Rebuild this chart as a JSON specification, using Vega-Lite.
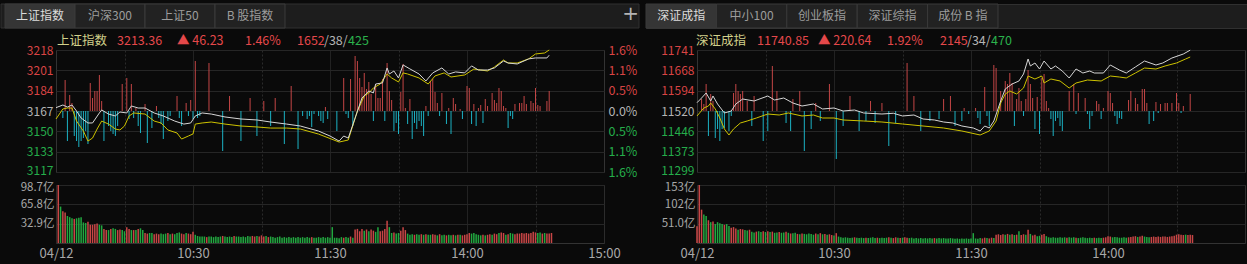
{
"$schema":"https://vega.github.io/schema/vega-lite/v6.json",
"background":"#0a0a0a",
"padding":{"left":0,"right":0,"top":3,"bottom":0},
"config":{"view":{"stroke":"#333333"},"font":"Noto Sans CJK SC","axis":{"domain":false,"ticks":false,"labelFont":"Noto Sans CJK SC","labelFontSize":12,"labelColor":"#a8a8a8","gridColor":"#262626"},"title":{"font":"Noto Sans CJK SC"}},
"datasets":{
"tabsL":[{"tab":"上证指数","on":1},{"tab":"沪深300","on":0},{"tab":"上证50","on":0},{"tab":"B 股指数","on":0}],
"tabsR":[{"tab":"深证成指","on":1},{"tab":"中小100","on":0},{"tab":"创业板指","on":0},{"tab":"深证综指","on":0},{"tab":"成份 B 指","on":0}],
"hdL":[{"k":"a","s":"上证指数","p":0},{"k":"b","s":"3213.36","p":0},{"k":"c","s":"▲ 46.23","p":0},{"k":"d","s":"1.46%","p":1},{"k":"e","s":"1652","p":0},{"k":"e","s":"/38/","p":2},{"k":"e","s":"425","p":3}],
"hdR":[{"k":"a","s":"深证成指","p":0},{"k":"b","s":"11740.85","p":0},{"k":"c","s":"▲ 220.64","p":0},{"k":"d","s":"1.92%","p":1},{"k":"e","s":"2145","p":0},{"k":"e","s":"/34/","p":2},{"k":"e","s":"470","p":3}],
"wL":[{"t":0,"p":3169.9},{"t":3,"p":3172.1},{"t":5,"p":3170.4},{"t":7,"p":3172.1},{"t":9,"p":3167.1},{"t":11,"p":3161.3},{"t":14,"p":3157.2},{"t":16,"p":3157.2},{"t":19,"p":3165.5},{"t":20,"p":3168.0},{"t":23,"p":3164.6},{"t":26,"p":3163.0},{"t":28,"p":3166.3},{"t":31,"p":3165.5},{"t":33,"p":3171.3},{"t":36,"p":3169.6},{"t":39,"p":3169.6},{"t":43,"p":3165.5},{"t":47,"p":3163.0},{"t":52,"p":3158.8},{"t":56,"p":3156.3},{"t":59,"p":3157.2},{"t":61,"p":3163.0},{"t":64,"p":3165.5},{"t":68,"p":3164.6},{"t":74,"p":3162.2},{"t":81,"p":3160.5},{"t":88,"p":3159.7},{"t":94,"p":3158.0},{"t":101,"p":3156.3},{"t":107,"p":3154.7},{"t":115,"p":3150.5},{"t":120,"p":3146.4},{"t":124,"p":3142.2},{"t":126,"p":3146.4},{"t":128,"p":3144.7},{"t":131,"p":3161.3},{"t":134,"p":3177.9},{"t":137,"p":3183.7},{"t":139,"p":3182.1},{"t":140,"p":3189.5},{"t":143,"p":3190.4},{"t":145,"p":3202.8},{"t":146,"p":3197.8},{"t":148,"p":3200.3},{"t":150,"p":3194.5},{"t":152,"p":3205.3},{"t":155,"p":3202.0},{"t":159,"p":3197.8},{"t":162,"p":3192.0},{"t":165,"p":3198.7},{"t":169,"p":3202.8},{"t":172,"p":3197.8},{"t":175,"p":3199.5},{"t":179,"p":3198.7},{"t":182,"p":3204.5},{"t":185,"p":3201.1},{"t":189,"p":3201.1},{"t":192,"p":3202.8},{"t":196,"p":3208.6},{"t":198,"p":3206.9},{"t":202,"p":3206.1},{"t":207,"p":3210.3},{"t":210,"p":3211.1},{"t":215,"p":3211.1},{"t":216,"p":3213.36}],
"yL":[{"t":0,"p":3160.5},{"t":3,"p":3168.8},{"t":5,"p":3169.6},{"t":7,"p":3169.6},{"t":9,"p":3158.8},{"t":12,"p":3150.5},{"t":14,"p":3142.2},{"t":16,"p":3144.7},{"t":18,"p":3152.2},{"t":20,"p":3158.8},{"t":23,"p":3156.3},{"t":26,"p":3152.2},{"t":28,"p":3151.4},{"t":30,"p":3154.7},{"t":32,"p":3163.0},{"t":34,"p":3165.5},{"t":39,"p":3164.6},{"t":43,"p":3158.8},{"t":46,"p":3157.2},{"t":49,"p":3151.4},{"t":53,"p":3148.9},{"t":55,"p":3143.9},{"t":58,"p":3146.4},{"t":60,"p":3148.1},{"t":61,"p":3156.3},{"t":64,"p":3157.2},{"t":68,"p":3158.0},{"t":74,"p":3156.3},{"t":81,"p":3154.7},{"t":88,"p":3153.9},{"t":94,"p":3153.0},{"t":101,"p":3153.0},{"t":107,"p":3152.2},{"t":115,"p":3148.0},{"t":124,"p":3141.4},{"t":128,"p":3143.1},{"t":132,"p":3167.1},{"t":135,"p":3179.6},{"t":137,"p":3182.1},{"t":139,"p":3186.2},{"t":142,"p":3189.5},{"t":145,"p":3197.8},{"t":147,"p":3194.5},{"t":150,"p":3191.2},{"t":152,"p":3198.7},{"t":154,"p":3197.8},{"t":159,"p":3194.5},{"t":163,"p":3189.5},{"t":166,"p":3196.2},{"t":170,"p":3198.7},{"t":173,"p":3195.3},{"t":179,"p":3197.0},{"t":183,"p":3201.9},{"t":186,"p":3201.1},{"t":189,"p":3200.3},{"t":192,"p":3203.6},{"t":196,"p":3209.4},{"t":198,"p":3206.9},{"t":202,"p":3206.9},{"t":207,"p":3210.3},{"t":210,"p":3214.4},{"t":214,"p":3215.2},{"t":216,"p":3217.7}],
"bL":[{"t":4,"h":31},{"t":6,"h":16},{"t":7,"h":8},{"t":15,"h":28},{"t":16,"h":13},{"t":17,"h":20},{"t":18,"h":20},{"t":19,"h":36},{"t":20,"h":10},{"t":29,"h":27},{"t":31,"h":33},{"t":33,"h":27},{"t":35,"h":3},{"t":39,"h":7},{"t":44,"h":5},{"t":53,"h":15},{"t":57,"h":8},{"t":59,"h":11},{"t":61,"h":50},{"t":67,"h":48},{"t":76,"h":15},{"t":85,"h":13},{"t":91,"h":10},{"t":96,"h":13},{"t":103,"h":25},{"t":118,"h":4},{"t":126,"h":33},{"t":129,"h":32},{"t":131,"h":55},{"t":132,"h":50},{"t":133,"h":33},{"t":134,"h":24},{"t":135,"h":38},{"t":136,"h":22},{"t":137,"h":29},{"t":138,"h":17},{"t":140,"h":27},{"t":141,"h":13},{"t":142,"h":13},{"t":143,"h":32},{"t":145,"h":48},{"t":146,"h":20},{"t":147,"h":11},{"t":151,"h":19},{"t":152,"h":47},{"t":153,"h":3},{"t":155,"h":12},{"t":162,"h":5},{"t":164,"h":30},{"t":165,"h":32},{"t":166,"h":19},{"t":167,"h":8},{"t":169,"h":18},{"t":172,"h":3},{"t":174,"h":13},{"t":175,"h":7},{"t":177,"h":2},{"t":180,"h":25},{"t":181,"h":23},{"t":183,"h":7},{"t":185,"h":3},{"t":186,"h":6},{"t":188,"h":12},{"t":189,"h":5},{"t":191,"h":18},{"t":192,"h":11},{"t":193,"h":8},{"t":194,"h":23},{"t":195,"h":20},{"t":196,"h":5},{"t":197,"h":3},{"t":201,"h":7},{"t":203,"h":8},{"t":204,"h":8},{"t":205,"h":15},{"t":206,"h":7},{"t":208,"h":10},{"t":209,"h":8},{"t":210,"h":23},{"t":211,"h":6},{"t":212,"h":5},{"t":215,"h":10},{"t":216,"h":20},
{"t":3,"h":-7},{"t":5,"h":-30},{"t":8,"h":-25},{"t":9,"h":-30},{"t":10,"h":-36},{"t":11,"h":-30},{"t":12,"h":-27},{"t":13,"h":-20},{"t":14,"h":-33},{"t":21,"h":-30},{"t":23,"h":-15},{"t":24,"h":-20},{"t":25,"h":-23},{"t":26,"h":-25},{"t":27,"h":-15},{"t":32,"h":-8},{"t":34,"h":-7},{"t":36,"h":-15},{"t":37,"h":-22},{"t":40,"h":-32},{"t":42,"h":-17},{"t":45,"h":-7},{"t":46,"h":-13},{"t":47,"h":-28},{"t":49,"h":-10},{"t":50,"h":-5},{"t":54,"h":-7},{"t":55,"h":-15},{"t":58,"h":-5},{"t":60,"h":-8},{"t":62,"h":-7},{"t":63,"h":-5},{"t":73,"h":-40},{"t":81,"h":-30},{"t":88,"h":-25},{"t":94,"h":-15},{"t":100,"h":-33},{"t":106,"h":-38},{"t":108,"h":-5},{"t":110,"h":-8},{"t":111,"h":-5},{"t":112,"h":-16},{"t":113,"h":-3},{"t":115,"h":-5},{"t":116,"h":-10},{"t":117,"h":-12},{"t":119,"h":-8},{"t":123,"h":-20},{"t":127,"h":-3},{"t":128,"h":-7},{"t":130,"h":-15},{"t":139,"h":-10},{"t":144,"h":-10},{"t":148,"h":-20},{"t":149,"h":-12},{"t":150,"h":-23},{"t":154,"h":-13},{"t":156,"h":-28},{"t":157,"h":-12},{"t":158,"h":-18},{"t":159,"h":-10},{"t":160,"h":-15},{"t":161,"h":-25},{"t":163,"h":-5},{"t":168,"h":-5},{"t":171,"h":-13},{"t":173,"h":-23},{"t":178,"h":-8},{"t":182,"h":-13},{"t":184,"h":-15},{"t":187,"h":-12},{"t":198,"h":-17},{"t":199,"h":-5},{"t":200,"h":-8}],
"vL":[{"t":1,"v":98.7,"c":1},{"t":2,"v":62,"c":0},{"t":3,"v":54,"c":1},{"t":4,"v":52,"c":1},{"t":5,"v":46,"c":0},{"t":6,"v":44,"c":0},{"t":7,"v":42,"c":0},{"t":8,"v":41,"c":1},{"t":9,"v":42,"c":0},{"t":10,"v":43,"c":0},{"t":11,"v":44,"c":0},{"t":12,"v":35,"c":0},{"t":13,"v":34,"c":0},{"t":14,"v":36,"c":1},{"t":15,"v":31,"c":1},{"t":16,"v":31,"c":1},{"t":17,"v":32,"c":1},{"t":18,"v":33,"c":1},{"t":19,"v":31,"c":0},{"t":20,"v":30,"c":0},{"t":21,"v":24,"c":1},{"t":22,"v":22,"c":1},{"t":23,"v":22,"c":0},{"t":24,"v":24,"c":1},{"t":25,"v":25,"c":0},{"t":26,"v":24,"c":0},{"t":27,"v":22,"c":1},{"t":28,"v":23,"c":1},{"t":29,"v":22,"c":0},{"t":30,"v":20,"c":0},{"t":31,"v":27,"c":1},{"t":32,"v":24,"c":1},{"t":33,"v":22,"c":0},{"t":34,"v":22,"c":1},{"t":35,"v":22,"c":0},{"t":36,"v":24,"c":1},{"t":37,"v":25,"c":0},{"t":38,"v":22,"c":0},{"t":39,"v":17,"c":1},{"t":40,"v":16,"c":1},{"t":41,"v":17,"c":0},{"t":42,"v":17,"c":0},{"t":43,"v":15,"c":1},{"t":44,"v":16,"c":1},{"t":45,"v":15,"c":1},{"t":46,"v":16,"c":0},{"t":47,"v":15,"c":0},{"t":48,"v":16,"c":0},{"t":49,"v":17,"c":1},{"t":50,"v":15,"c":0},{"t":51,"v":16,"c":1},{"t":52,"v":15,"c":0},{"t":53,"v":17,"c":0},{"t":54,"v":18,"c":0},{"t":55,"v":16,"c":1},{"t":56,"v":15,"c":1},{"t":57,"v":17,"c":0},{"t":58,"v":16,"c":1},{"t":59,"v":15,"c":1},{"t":60,"v":19,"c":1},{"t":61,"v":14,"c":0},{"t":62,"v":12,"c":0},{"t":63,"v":11,"c":0},{"t":64,"v":11,"c":0},{"t":65,"v":11,"c":0},{"t":66,"v":10,"c":1},{"t":67,"v":11,"c":0},{"t":68,"v":11,"c":0},{"t":69,"v":10,"c":0},{"t":70,"v":11,"c":0},{"t":71,"v":10,"c":0},{"t":72,"v":11,"c":0},{"t":73,"v":12,"c":1},{"t":74,"v":11,"c":0},{"t":75,"v":10,"c":0},{"t":76,"v":11,"c":0},{"t":77,"v":10,"c":0},{"t":78,"v":12,"c":1},{"t":79,"v":11,"c":0},{"t":80,"v":11,"c":0},{"t":81,"v":10,"c":0},{"t":82,"v":11,"c":0},{"t":83,"v":10,"c":0},{"t":84,"v":12,"c":0},{"t":85,"v":11,"c":0},{"t":86,"v":12,"c":1},{"t":87,"v":11,"c":1},{"t":88,"v":12,"c":0},{"t":89,"v":11,"c":1},{"t":90,"v":13,"c":1},{"t":91,"v":11,"c":1},{"t":92,"v":12,"c":0},{"t":93,"v":10,"c":1},{"t":94,"v":11,"c":0},{"t":95,"v":10,"c":0},{"t":96,"v":9,"c":0},{"t":97,"v":10,"c":0},{"t":98,"v":11,"c":0},{"t":99,"v":9,"c":0},{"t":100,"v":10,"c":0},{"t":101,"v":9,"c":0},{"t":102,"v":10,"c":0},{"t":103,"v":9,"c":0},{"t":104,"v":10,"c":0},{"t":105,"v":9,"c":0},{"t":106,"v":10,"c":0},{"t":107,"v":9,"c":0},{"t":108,"v":10,"c":0},{"t":109,"v":9,"c":0},{"t":110,"v":10,"c":0},{"t":111,"v":9,"c":0},{"t":112,"v":10,"c":1},{"t":113,"v":9,"c":0},{"t":114,"v":9,"c":0},{"t":115,"v":10,"c":0},{"t":116,"v":9,"c":0},{"t":117,"v":10,"c":0},{"t":118,"v":9,"c":0},{"t":119,"v":10,"c":0},{"t":120,"v":9,"c":0},{"t":121,"v":27,"c":0},{"t":122,"v":9,"c":0},{"t":123,"v":9,"c":0},{"t":124,"v":8,"c":0},{"t":125,"v":10,"c":0},{"t":126,"v":9,"c":1},{"t":127,"v":10,"c":0},{"t":128,"v":9,"c":0},{"t":129,"v":11,"c":1},{"t":130,"v":9,"c":0},{"t":131,"v":23,"c":1},{"t":132,"v":24,"c":1},{"t":133,"v":20,"c":1},{"t":134,"v":24,"c":1},{"t":135,"v":21,"c":0},{"t":136,"v":23,"c":1},{"t":137,"v":20,"c":0},{"t":138,"v":23,"c":1},{"t":139,"v":21,"c":1},{"t":140,"v":19,"c":0},{"t":141,"v":27,"c":0},{"t":142,"v":20,"c":1},{"t":143,"v":21,"c":1},{"t":144,"v":24,"c":1},{"t":145,"v":38,"c":1},{"t":146,"v":27,"c":0},{"t":147,"v":17,"c":0},{"t":148,"v":18,"c":1},{"t":149,"v":16,"c":0},{"t":150,"v":17,"c":0},{"t":151,"v":21,"c":1},{"t":152,"v":27,"c":1},{"t":153,"v":22,"c":1},{"t":154,"v":16,"c":0},{"t":155,"v":14,"c":0},{"t":156,"v":15,"c":0},{"t":157,"v":14,"c":1},{"t":158,"v":15,"c":0},{"t":159,"v":14,"c":0},{"t":160,"v":15,"c":1},{"t":161,"v":14,"c":0},{"t":162,"v":15,"c":1},{"t":163,"v":14,"c":0},{"t":164,"v":14,"c":0},{"t":165,"v":15,"c":1},{"t":166,"v":14,"c":1},{"t":167,"v":13,"c":0},{"t":168,"v":15,"c":1},{"t":169,"v":13,"c":0},{"t":170,"v":14,"c":0},{"t":171,"v":13,"c":1},{"t":172,"v":14,"c":0},{"t":173,"v":13,"c":0},{"t":174,"v":14,"c":1},{"t":175,"v":13,"c":0},{"t":176,"v":14,"c":1},{"t":177,"v":14,"c":0},{"t":178,"v":13,"c":1},{"t":179,"v":14,"c":1},{"t":180,"v":15,"c":1},{"t":181,"v":17,"c":1},{"t":182,"v":16,"c":0},{"t":183,"v":17,"c":0},{"t":184,"v":15,"c":0},{"t":185,"v":14,"c":0},{"t":186,"v":13,"c":0},{"t":187,"v":14,"c":1},{"t":188,"v":13,"c":0},{"t":189,"v":14,"c":1},{"t":190,"v":15,"c":1},{"t":191,"v":14,"c":0},{"t":192,"v":16,"c":1},{"t":193,"v":15,"c":1},{"t":194,"v":17,"c":0},{"t":195,"v":18,"c":1},{"t":196,"v":17,"c":1},{"t":197,"v":14,"c":0},{"t":198,"v":15,"c":1},{"t":199,"v":17,"c":0},{"t":200,"v":16,"c":0},{"t":201,"v":15,"c":1},{"t":202,"v":16,"c":1},{"t":203,"v":16,"c":1},{"t":204,"v":17,"c":1},{"t":205,"v":16,"c":1},{"t":206,"v":17,"c":1},{"t":207,"v":16,"c":1},{"t":208,"v":17,"c":1},{"t":209,"v":19,"c":1},{"t":210,"v":18,"c":1},{"t":211,"v":17,"c":0},{"t":212,"v":18,"c":0},{"t":213,"v":16,"c":1},{"t":214,"v":17,"c":0},{"t":215,"v":16,"c":1},{"t":216,"v":16,"c":1},{"t":217,"v":17,"c":1}],
"wR":[{"t":0,"p":11550.3},{"t":2,"p":11567.3},{"t":4,"p":11585.5},{"t":6,"p":11556.5},{"t":7,"p":11574.6},{"t":9,"p":11545.6},{"t":12,"p":11513.0},{"t":15,"p":11520.2},{"t":17,"p":11545.6},{"t":20,"p":11563.7},{"t":25,"p":11556.5},{"t":31,"p":11574.6},{"t":34,"p":11560.1},{"t":38,"p":11567.3},{"t":42,"p":11549.2},{"t":46,"p":11538.3},{"t":51,"p":11545.6},{"t":55,"p":11527.5},{"t":60,"p":11531.1},{"t":64,"p":11520.2},{"t":69,"p":11523.8},{"t":73,"p":11513.0},{"t":81,"p":11509.3},{"t":86,"p":11512.0},{"t":90,"p":11502.1},{"t":95,"p":11505.7},{"t":99,"p":11491.2},{"t":104,"p":11487.6},{"t":108,"p":11480.3},{"t":112,"p":11476.7},{"t":116,"p":11465.8},{"t":121,"p":11458.6},{"t":124,"p":11447.7},{"t":126,"p":11465.8},{"t":128,"p":11458.6},{"t":130,"p":11484.0},{"t":133,"p":11556.5},{"t":135,"p":11600.0},{"t":138,"p":11618.1},{"t":141,"p":11629.0},{"t":143,"p":11654.4},{"t":145,"p":11708.8},{"t":146,"p":11683.4},{"t":148,"p":11694.3},{"t":150,"p":11672.5},{"t":152,"p":11701.5},{"t":155,"p":11672.5},{"t":157,"p":11683.4},{"t":160,"p":11665.2},{"t":163,"p":11639.9},{"t":166,"p":11672.5},{"t":169,"p":11658.0},{"t":172,"p":11665.2},{"t":174,"p":11658.0},{"t":178,"p":11658.0},{"t":181,"p":11687.0},{"t":185,"p":11668.9},{"t":188,"p":11658.0},{"t":192,"p":11679.8},{"t":196,"p":11701.5},{"t":201,"p":11687.0},{"t":204,"p":11694.3},{"t":208,"p":11712.4},{"t":213,"p":11726.9},{"t":216,"p":11740.85}],
"yR":[{"t":0,"p":11502.1},{"t":3,"p":11531.1},{"t":5,"p":11538.3},{"t":6,"p":11549.2},{"t":8,"p":11527.5},{"t":10,"p":11494.8},{"t":12,"p":11455.0},{"t":14,"p":11433.2},{"t":16,"p":11455.0},{"t":19,"p":11476.7},{"t":22,"p":11484.0},{"t":26,"p":11494.8},{"t":31,"p":11509.3},{"t":36,"p":11505.7},{"t":40,"p":11513.0},{"t":46,"p":11502.1},{"t":51,"p":11505.7},{"t":55,"p":11494.8},{"t":60,"p":11494.8},{"t":64,"p":11487.6},{"t":73,"p":11484.0},{"t":81,"p":11480.3},{"t":90,"p":11473.1},{"t":99,"p":11465.8},{"t":108,"p":11458.6},{"t":116,"p":11447.7},{"t":124,"p":11433.2},{"t":128,"p":11447.7},{"t":131,"p":11484.0},{"t":133,"p":11549.2},{"t":135,"p":11581.9},{"t":137,"p":11592.7},{"t":140,"p":11581.9},{"t":143,"p":11603.6},{"t":145,"p":11647.1},{"t":148,"p":11636.2},{"t":151,"p":11647.1},{"t":152,"p":11621.7},{"t":155,"p":11636.2},{"t":159,"p":11629.0},{"t":163,"p":11603.6},{"t":166,"p":11621.7},{"t":171,"p":11632.6},{"t":177,"p":11629.0},{"t":181,"p":11647.1},{"t":185,"p":11643.5},{"t":188,"p":11639.9},{"t":192,"p":11658.0},{"t":196,"p":11676.1},{"t":201,"p":11672.5},{"t":205,"p":11683.4},{"t":210,"p":11694.3},{"t":214,"p":11708.8},{"t":216,"p":11716.0}],
"bR":[{"t":2,"h":12},{"t":3,"h":7},{"t":4,"h":27},{"t":6,"h":17},{"t":7,"h":10},{"t":16,"h":18},{"t":17,"h":27},{"t":18,"h":20},{"t":19,"h":17},{"t":20,"h":20},{"t":22,"h":10},{"t":25,"h":15},{"t":33,"h":45},{"t":35,"h":20},{"t":42,"h":12},{"t":45,"h":20},{"t":52,"h":8},{"t":58,"h":27},{"t":67,"h":15},{"t":76,"h":10},{"t":81,"h":8},{"t":92,"h":48},{"t":95,"h":15},{"t":108,"h":12},{"t":111,"h":15},{"t":117,"h":3},{"t":122,"h":3},{"t":126,"h":24},{"t":130,"h":46},{"t":131,"h":43},{"t":133,"h":20},{"t":135,"h":30},{"t":136,"h":27},{"t":137,"h":38},{"t":138,"h":28},{"t":140,"h":12},{"t":141,"h":23},{"t":142,"h":10},{"t":144,"h":12},{"t":145,"h":41},{"t":146,"h":27},{"t":147,"h":13},{"t":149,"h":14},{"t":151,"h":33},{"t":152,"h":37},{"t":153,"h":10},{"t":154,"h":3},{"t":163,"h":20},{"t":165,"h":27},{"t":167,"h":18},{"t":170,"h":13},{"t":175,"h":10},{"t":176,"h":7},{"t":178,"h":3},{"t":180,"h":20},{"t":181,"h":18},{"t":182,"h":8},{"t":189,"h":11},{"t":190,"h":20},{"t":192,"h":13},{"t":193,"h":7},{"t":195,"h":22},{"t":196,"h":22},{"t":197,"h":8},{"t":201,"h":9},{"t":203,"h":7},{"t":205,"h":8},{"t":206,"h":8},{"t":208,"h":8},{"t":210,"h":18},{"t":211,"h":8},{"t":213,"h":5},{"t":216,"h":17},
{"t":5,"h":-25},{"t":8,"h":-27},{"t":9,"h":-18},{"t":10,"h":-30},{"t":11,"h":-18},{"t":12,"h":-17},{"t":14,"h":-20},{"t":15,"h":-5},{"t":24,"h":-15},{"t":29,"h":-30},{"t":31,"h":-20},{"t":39,"h":-12},{"t":41,"h":-20},{"t":47,"h":-40},{"t":50,"h":-18},{"t":54,"h":-10},{"t":61,"h":-48},{"t":64,"h":-15},{"t":71,"h":-20},{"t":74,"h":-10},{"t":78,"h":-12},{"t":84,"h":-35},{"t":87,"h":-12},{"t":98,"h":-20},{"t":102,"h":-10},{"t":106,"h":-8},{"t":113,"h":-15},{"t":116,"h":-10},{"t":119,"h":-3},{"t":123,"h":-7},{"t":124,"h":-13},{"t":127,"h":-5},{"t":128,"h":-15},{"t":139,"h":-15},{"t":143,"h":-5},{"t":148,"h":-18},{"t":150,"h":-23},{"t":155,"h":-8},{"t":156,"h":-25},{"t":157,"h":-10},{"t":158,"h":-7},{"t":159,"h":-15},{"t":160,"h":-20},{"t":166,"h":-3},{"t":171,"h":-3},{"t":172,"h":-18},{"t":173,"h":-5},{"t":177,"h":-8},{"t":183,"h":-5},{"t":184,"h":-13},{"t":185,"h":-7},{"t":186,"h":-8},{"t":198,"h":-13},{"t":200,"h":-10},{"t":202,"h":-2},{"t":212,"h":-2}],
"vR":[{"t":0,"v":44,"c":1},{"t":1,"v":153,"c":1},{"t":2,"v":88,"c":1},{"t":3,"v":75,"c":0},{"t":4,"v":71,"c":0},{"t":5,"v":60,"c":1},{"t":6,"v":55,"c":0},{"t":7,"v":57,"c":1},{"t":8,"v":50,"c":0},{"t":9,"v":55,"c":0},{"t":10,"v":52,"c":0},{"t":11,"v":50,"c":0},{"t":12,"v":48,"c":1},{"t":13,"v":50,"c":0},{"t":14,"v":45,"c":0},{"t":15,"v":40,"c":1},{"t":16,"v":42,"c":1},{"t":17,"v":38,"c":1},{"t":18,"v":35,"c":0},{"t":19,"v":37,"c":1},{"t":20,"v":36,"c":1},{"t":21,"v":34,"c":0},{"t":22,"v":33,"c":0},{"t":23,"v":35,"c":1},{"t":24,"v":30,"c":0},{"t":25,"v":28,"c":0},{"t":26,"v":30,"c":1},{"t":27,"v":31,"c":0},{"t":28,"v":29,"c":0},{"t":29,"v":31,"c":1},{"t":30,"v":29,"c":0},{"t":31,"v":31,"c":1},{"t":32,"v":29,"c":0},{"t":33,"v":30,"c":1},{"t":34,"v":27,"c":0},{"t":35,"v":28,"c":0},{"t":36,"v":29,"c":1},{"t":37,"v":27,"c":0},{"t":38,"v":28,"c":0},{"t":39,"v":30,"c":1},{"t":40,"v":27,"c":0},{"t":41,"v":25,"c":1},{"t":42,"v":26,"c":0},{"t":43,"v":27,"c":0},{"t":44,"v":24,"c":1},{"t":45,"v":23,"c":0},{"t":46,"v":25,"c":1},{"t":47,"v":24,"c":0},{"t":48,"v":23,"c":0},{"t":49,"v":25,"c":0},{"t":50,"v":24,"c":0},{"t":51,"v":22,"c":0},{"t":52,"v":25,"c":1},{"t":53,"v":23,"c":0},{"t":54,"v":26,"c":1},{"t":55,"v":23,"c":0},{"t":56,"v":24,"c":1},{"t":57,"v":22,"c":0},{"t":58,"v":23,"c":1},{"t":59,"v":21,"c":1},{"t":60,"v":20,"c":0},{"t":61,"v":26,"c":1},{"t":62,"v":17,"c":0},{"t":63,"v":15,"c":0},{"t":64,"v":14,"c":0},{"t":65,"v":15,"c":0},{"t":66,"v":14,"c":0},{"t":67,"v":13,"c":0},{"t":68,"v":14,"c":0},{"t":69,"v":15,"c":1},{"t":70,"v":14,"c":0},{"t":71,"v":13,"c":0},{"t":72,"v":14,"c":0},{"t":73,"v":13,"c":0},{"t":74,"v":14,"c":1},{"t":75,"v":13,"c":0},{"t":76,"v":14,"c":0},{"t":77,"v":15,"c":0},{"t":78,"v":13,"c":0},{"t":79,"v":14,"c":1},{"t":80,"v":13,"c":0},{"t":81,"v":14,"c":0},{"t":82,"v":13,"c":0},{"t":83,"v":14,"c":0},{"t":84,"v":15,"c":1},{"t":85,"v":14,"c":0},{"t":86,"v":13,"c":1},{"t":87,"v":15,"c":1},{"t":88,"v":14,"c":0},{"t":89,"v":13,"c":1},{"t":90,"v":14,"c":0},{"t":91,"v":15,"c":1},{"t":92,"v":14,"c":1},{"t":93,"v":13,"c":0},{"t":94,"v":14,"c":0},{"t":95,"v":12,"c":0},{"t":96,"v":13,"c":0},{"t":97,"v":12,"c":0},{"t":98,"v":13,"c":0},{"t":99,"v":12,"c":0},{"t":100,"v":13,"c":0},{"t":101,"v":12,"c":0},{"t":102,"v":13,"c":0},{"t":103,"v":12,"c":0},{"t":104,"v":13,"c":1},{"t":105,"v":12,"c":0},{"t":106,"v":13,"c":0},{"t":107,"v":12,"c":0},{"t":108,"v":13,"c":0},{"t":109,"v":12,"c":0},{"t":110,"v":12,"c":0},{"t":111,"v":13,"c":0},{"t":112,"v":12,"c":0},{"t":113,"v":11,"c":0},{"t":114,"v":12,"c":0},{"t":115,"v":11,"c":0},{"t":116,"v":12,"c":0},{"t":117,"v":11,"c":0},{"t":118,"v":12,"c":0},{"t":119,"v":11,"c":0},{"t":120,"v":12,"c":0},{"t":121,"v":26,"c":0},{"t":122,"v":12,"c":0},{"t":123,"v":11,"c":0},{"t":124,"v":13,"c":0},{"t":125,"v":12,"c":1},{"t":126,"v":14,"c":1},{"t":127,"v":13,"c":0},{"t":128,"v":12,"c":1},{"t":129,"v":14,"c":1},{"t":130,"v":13,"c":0},{"t":131,"v":22,"c":1},{"t":132,"v":23,"c":1},{"t":133,"v":21,"c":1},{"t":134,"v":23,"c":1},{"t":135,"v":22,"c":0},{"t":136,"v":24,"c":1},{"t":137,"v":22,"c":0},{"t":138,"v":23,"c":1},{"t":139,"v":21,"c":0},{"t":140,"v":22,"c":1},{"t":141,"v":31,"c":0},{"t":142,"v":21,"c":1},{"t":143,"v":23,"c":1},{"t":144,"v":22,"c":0},{"t":145,"v":35,"c":1},{"t":146,"v":24,"c":0},{"t":147,"v":20,"c":1},{"t":148,"v":22,"c":1},{"t":149,"v":18,"c":0},{"t":150,"v":19,"c":0},{"t":151,"v":22,"c":1},{"t":152,"v":24,"c":1},{"t":153,"v":18,"c":0},{"t":154,"v":15,"c":0},{"t":155,"v":14,"c":0},{"t":156,"v":15,"c":0},{"t":157,"v":14,"c":0},{"t":158,"v":14,"c":0},{"t":159,"v":15,"c":0},{"t":160,"v":14,"c":0},{"t":161,"v":15,"c":0},{"t":162,"v":14,"c":1},{"t":163,"v":15,"c":0},{"t":164,"v":14,"c":0},{"t":165,"v":15,"c":0},{"t":166,"v":14,"c":1},{"t":167,"v":13,"c":0},{"t":168,"v":14,"c":0},{"t":169,"v":15,"c":0},{"t":170,"v":14,"c":0},{"t":171,"v":13,"c":0},{"t":172,"v":14,"c":0},{"t":173,"v":13,"c":0},{"t":174,"v":14,"c":1},{"t":175,"v":13,"c":0},{"t":176,"v":14,"c":0},{"t":177,"v":13,"c":0},{"t":178,"v":14,"c":1},{"t":179,"v":15,"c":1},{"t":180,"v":18,"c":1},{"t":181,"v":17,"c":1},{"t":182,"v":15,"c":0},{"t":183,"v":16,"c":0},{"t":184,"v":15,"c":0},{"t":185,"v":14,"c":0},{"t":186,"v":14,"c":0},{"t":187,"v":15,"c":0},{"t":188,"v":14,"c":0},{"t":189,"v":15,"c":1},{"t":190,"v":16,"c":1},{"t":191,"v":17,"c":1},{"t":192,"v":18,"c":1},{"t":193,"v":16,"c":0},{"t":194,"v":17,"c":1},{"t":195,"v":19,"c":1},{"t":196,"v":17,"c":0},{"t":197,"v":16,"c":0},{"t":198,"v":15,"c":0},{"t":199,"v":16,"c":1},{"t":200,"v":17,"c":1},{"t":201,"v":16,"c":1},{"t":202,"v":17,"c":1},{"t":203,"v":16,"c":1},{"t":204,"v":17,"c":1},{"t":205,"v":17,"c":1},{"t":206,"v":16,"c":1},{"t":207,"v":17,"c":1},{"t":208,"v":18,"c":1},{"t":209,"v":19,"c":1},{"t":210,"v":22,"c":1},{"t":211,"v":23,"c":1},{"t":212,"v":22,"c":1},{"t":213,"v":21,"c":1},{"t":214,"v":22,"c":0},{"t":215,"v":21,"c":1},{"t":216,"v":22,"c":1},{"t":217,"v":21,"c":1}]
},
"spacing":1,
"vconcat":[
{"spacing":5,"hconcat":[
 {"width":583,"height":24,"view":{"stroke":null},
  "resolve":{"scale":{"x":"independent"}},
  "title":{"text":"+","anchor":"end","orient":"top","frame":"group","offset":-20,"fontSize":20,"fontWeight":"normal","color":"#b4b4b4","font":"DejaVu Sans"},
  "layer":[
   {"data":{"values":[{"a":0,"b":1}]},"mark":{"type":"rect","fill":"#1d1d1d","stroke":"#303030","strokeWidth":1},"encoding":{"x":{"field":"a","type":"quantitative","scale":{"domain":[0,1],"range":[-55,583]},"axis":null},"x2":{"field":"b"}}},
   {"data":{"name":"tabsL"},"layer":[
    {"mark":{"type":"rect","stroke":"#3a3a3a","strokeWidth":1},"encoding":{"x":{"field":"tab","type":"nominal","sort":null,"scale":{"type":"band","range":[-51,229],"paddingInner":0,"paddingOuter":0},"axis":null},"fill":{"condition":{"test":"datum.on == 1","value":"#353535"},"value":"#222222"}}},
    {"mark":{"type":"text","fontSize":12},"encoding":{"x":{"field":"tab","type":"nominal","sort":null,"axis":null},"text":{"field":"tab"},"color":{"condition":{"test":"datum.on == 1","value":"#dcdcdc"},"value":"#9c9c9c"}}}
   ]}
  ]},
 {"width":602,"height":24,"view":{"fill":"#1d1d1d","stroke":"#303030"},"data":{"name":"tabsR"},
  "layer":[
   {"mark":{"type":"rect","stroke":"#3a3a3a","strokeWidth":1},"encoding":{"x":{"field":"tab","type":"nominal","sort":null,"scale":{"type":"band","range":[0,352],"paddingInner":0,"paddingOuter":0},"axis":null},"fill":{"condition":{"test":"datum.on == 1","value":"#353535"},"value":"#222222"}}},
   {"mark":{"type":"text","fontSize":12},"encoding":{"x":{"field":"tab","type":"nominal","sort":null,"axis":null},"text":{"field":"tab"},"color":{"condition":{"test":"datum.on == 1","value":"#dcdcdc"},"value":"#9c9c9c"}}}
  ]}
]},
{"spacing":0,"hconcat":[
 {"bounds":"flush","spacing":13,"vconcat":[
  {"width":548,"height":7,"view":{"stroke":null},"data":{"name":"hdL"},
   "layer":[
    {"transform":[{"filter":"datum.p == 0"}],"mark":{"type":"text","align":"left","fontSize":12.5,"dy":7},"encoding":{"x":{"field":"k","type":"nominal","bandPosition":0,"scale":{"type":"band","domain":["a","b","c","d","e"],"range":[1,301],"paddingInner":0,"paddingOuter":0},"axis":null},"text":{"field":"s"},"color":{"condition":{"test":"datum.k == 'a'","value":"#d2d08a"},"value":"#e5484a"}}},
    {"transform":[{"filter":"datum.p == 1"}],"mark":{"type":"text","align":"left","fontSize":12.5,"dy":7,"dx":8,"color":"#e5484a"},"encoding":{"x":{"field":"k","type":"nominal","bandPosition":0,"axis":null},"text":{"field":"s"}}},
    {"transform":[{"filter":"datum.p == 2"}],"mark":{"type":"text","align":"left","fontSize":12.5,"dy":7,"dx":27,"color":"#b4b4b4"},"encoding":{"x":{"field":"k","type":"nominal","bandPosition":0,"axis":null},"text":{"field":"s"}}},
    {"transform":[{"filter":"datum.p == 3"}],"mark":{"type":"text","align":"left","fontSize":12.5,"dy":7,"dx":51,"color":"#2bb24c"},"encoding":{"x":{"field":"k","type":"nominal","bandPosition":0,"axis":null},"text":{"field":"s"}}}
   ]},
  {"width":548,"height":122,"view":{"stroke":"#333333"},
   "resolve":{"scale":{"y":"independent"},"axis":{"y":"independent"}},
   "layer":[
    {"data":{"name":"bL"},"mark":{"type":"rule","strokeWidth":1},"encoding":{
      "x":{"field":"t","type":"quantitative","scale":{"domain":[0,240],"nice":false,"zero":false},"axis":{"grid":true,"labels":false,"values":[30,60,90,120,150,180,210],"gridColor":"#2a2a2a","gridDash":{"condition":{"test":"datum.value % 60 == 0","value":[1,0]},"value":[2,2]},"title":null}},
      "y":{"field":"h","type":"quantitative","scale":{"domain":[-61,61],"nice":false,"zero":false},"axis":null},
      "y2":{"datum":0},
      "color":{"condition":{"test":"datum.h > 0","value":"#c44646"},"value":"#1cb2c4"}}},
    {"data":{"name":"yL"},"mark":{"type":"line","color":"#cdc200","strokeWidth":1},"encoding":{
      "x":{"field":"t","type":"quantitative"},
      "y":{"field":"p","type":"quantitative","scale":{"domain":[3116.58,3217.68],"nice":false,"zero":false},"axis":{"orient":"left","values":[3116.58,3133.43,3150.28,3167.13,3183.98,3200.83,3217.68],"labelExpr":"format(datum.value, '.0f')","labelColor":{"expr":"datum.value > 3168 ? '#d84444' : datum.value < 3166 ? '#25ad4a' : '#b4b4b4'"},"labelOffset":{"condition":{"test":"datum.value < 3117","value":-2},"value":0},"grid":true,"gridColor":"#262626","labelPadding":3,"minExtent":55,"title":null}}}},
    {"data":{"name":"wL"},"mark":{"type":"line","color":"#d6d6d6","strokeWidth":1},"encoding":{
      "x":{"field":"t","type":"quantitative"},
      "y":{"field":"p","type":"quantitative","scale":{"domain":[3116.58,3217.68],"nice":false,"zero":false},"axis":{"orient":"right","values":[3116.58,3133.43,3150.28,3167.13,3183.98,3200.83,3217.68],"labelExpr":"format(abs(datum.value - 3167.13) / 3167.13 * 100, '.1f') + '%'","labelColor":{"expr":"datum.value > 3168 ? '#d84444' : datum.value < 3166 ? '#25ad4a' : '#b4b4b4'"},"labelFontSize":12.5,"grid":false,"labelPadding":4,"minExtent":36,"title":null}}}}
   ]},
  {"width":548,"height":58,"view":{"stroke":"#333333"},"data":{"name":"vL"},
   "mark":{"type":"rule","strokeWidth":1.5},
   "encoding":{
    "x":{"field":"t","type":"quantitative","scale":{"domain":[0,240],"nice":false,"zero":false},"axis":{"values":[0,30,60,90,120,150,180,210,240],"labelExpr":"datum.value == 0 ? '04/12' : datum.value == 60 ? '10:30' : datum.value == 120 ? '11:30' : datum.value == 180 ? '14:00' : datum.value == 240 ? '15:00' : ''","labelFlush":false,"labelOverlap":false,"labelFontSize":13,"grid":true,"gridColor":"#2a2a2a","gridDash":{"condition":{"test":"datum.value % 60 == 0","value":[1,0]},"value":[2,2]},"labelPadding":4,"minExtent":22,"title":null}},
    "y":{"field":"v","type":"quantitative","scale":{"domain":[0,98.7],"nice":false},"axis":{"values":[32.9,65.8,98.7],"labelExpr":"format(datum.value, '.1f') + '亿'","labelFontSize":11.5,"labelOffset":{"condition":{"test":"datum.value > 98","value":2},"value":0},"grid":true,"gridColor":"#262626","labelPadding":2,"minExtent":55,"title":null}},
    "y2":{"datum":0},
    "color":{"condition":{"test":"datum.c == 1","value":"#c84646"},"value":"#22a840"}}}
 ]},
 {"bounds":"flush","spacing":13,"vconcat":[
  {"width":548,"height":7,"view":{"stroke":null},"data":{"name":"hdR"},
   "layer":[
    {"transform":[{"filter":"datum.p == 0"}],"mark":{"type":"text","align":"left","fontSize":12.5,"dy":7},"encoding":{"x":{"field":"k","type":"nominal","bandPosition":0,"scale":{"type":"band","domain":["a","b","c","d","e"],"range":[-1,304],"paddingInner":0,"paddingOuter":0},"axis":null},"text":{"field":"s"},"color":{"condition":{"test":"datum.k == 'a'","value":"#d2d08a"},"value":"#e5484a"}}},
    {"transform":[{"filter":"datum.p == 1"}],"mark":{"type":"text","align":"left","fontSize":12.5,"dy":7,"dx":8,"color":"#e5484a"},"encoding":{"x":{"field":"k","type":"nominal","bandPosition":0,"axis":null},"text":{"field":"s"}}},
    {"transform":[{"filter":"datum.p == 2"}],"mark":{"type":"text","align":"left","fontSize":12.5,"dy":7,"dx":27,"color":"#b4b4b4"},"encoding":{"x":{"field":"k","type":"nominal","bandPosition":0,"axis":null},"text":{"field":"s"}}},
    {"transform":[{"filter":"datum.p == 3"}],"mark":{"type":"text","align":"left","fontSize":12.5,"dy":7,"dx":51,"color":"#2bb24c"},"encoding":{"x":{"field":"k","type":"nominal","bandPosition":0,"axis":null},"text":{"field":"s"}}}
   ]},
  {"width":548,"height":122,"view":{"stroke":"#333333"},
   "resolve":{"scale":{"y":"independent"},"axis":{"y":"independent"}},
   "layer":[
    {"data":{"name":"bR"},"mark":{"type":"rule","strokeWidth":1},"encoding":{
      "x":{"field":"t","type":"quantitative","scale":{"domain":[0,240],"nice":false,"zero":false},"axis":{"grid":true,"labels":false,"values":[30,60,90,120,150,180,210],"gridColor":"#2a2a2a","gridDash":{"condition":{"test":"datum.value % 60 == 0","value":[1,0]},"value":[2,2]},"title":null}},
      "y":{"field":"h","type":"quantitative","scale":{"domain":[-61,61],"nice":false,"zero":false},"axis":null},
      "y2":{"datum":0},
      "color":{"condition":{"test":"datum.h > 0","value":"#c44646"},"value":"#1cb2c4"}}},
    {"data":{"name":"yR"},"mark":{"type":"line","color":"#cdc200","strokeWidth":1},"encoding":{
      "x":{"field":"t","type":"quantitative"},
      "y":{"field":"p","type":"quantitative","scale":{"domain":[11299.01,11741.41],"nice":false,"zero":false},"axis":{"orient":"left","values":[11299.01,11372.75,11446.48,11520.21,11593.94,11667.68,11741.41],"labelExpr":"format(datum.value, '.0f')","labelColor":{"expr":"datum.value > 11521 ? '#d84444' : datum.value < 11519 ? '#25ad4a' : '#b4b4b4'"},"labelOffset":{"condition":{"test":"datum.value < 11300","value":-2},"value":0},"grid":true,"gridColor":"#262626","labelPadding":3,"minExtent":55,"title":null}}}},
    {"data":{"name":"wR"},"mark":{"type":"line","color":"#d6d6d6","strokeWidth":1},"encoding":{
      "x":{"field":"t","type":"quantitative"},
      "y":{"field":"p","type":"quantitative","scale":{"domain":[11299.01,11741.41],"nice":false,"zero":false},"axis":null}}}
   ]},
  {"width":548,"height":58,"view":{"stroke":"#333333"},"data":{"name":"vR"},
   "mark":{"type":"rule","strokeWidth":1.5},
   "encoding":{
    "x":{"field":"t","type":"quantitative","scale":{"domain":[0,240],"nice":false,"zero":false},"axis":{"values":[0,30,60,90,120,150,180,210,240],"labelExpr":"datum.value == 0 ? '04/12' : datum.value == 60 ? '10:30' : datum.value == 120 ? '11:30' : datum.value == 180 ? '14:00' : ''","labelFlush":false,"labelOverlap":false,"labelFontSize":13,"grid":true,"gridColor":"#2a2a2a","gridDash":{"condition":{"test":"datum.value % 60 == 0","value":[1,0]},"value":[2,2]},"labelPadding":4,"minExtent":22,"title":null}},
    "y":{"field":"v","type":"quantitative","scale":{"domain":[0,153],"nice":false},"axis":{"values":[51,102,153],"labelExpr":"datum.value < 100 ? format(datum.value, '.1f') + '亿' : format(datum.value, '.0f') + '亿'","labelFontSize":11.5,"labelOffset":{"condition":{"test":"datum.value > 150","value":2},"value":0},"grid":true,"gridColor":"#262626","labelPadding":2,"minExtent":55,"title":null}},
    "y2":{"datum":0},
    "color":{"condition":{"test":"datum.c == 1","value":"#c84646"},"value":"#22a840"}}}
 ]}
]}
]
}
